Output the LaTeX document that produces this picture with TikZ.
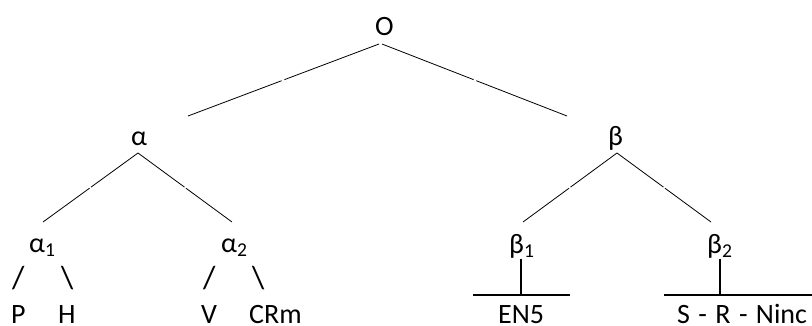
\documentclass[tikz,border=0pt]{standalone}
\usepackage{fontspec}
\setmainfont{Carlito}
\usetikzlibrary{calc}
\begin{document}
\begin{tikzpicture}[x=1pt,y=-1pt,
  lbl/.style={inner sep=0pt,anchor=base west,font=\fontsize{28}{32}\selectfont},
  slash/.style={lbl,font=\fontsize{32}{36}\selectfont},
  edge/.style={line width=0.8pt},
  bar/.style={line width=1.6pt}]
\useasboundingbox (0,0) rectangle (812,325);
% labels
\node[lbl] (O) at (375,35) {O};
\node[lbl] (a) at (131,145) {α};
\node[lbl] (b) at (608,145) {β};
\node[lbl] (a1) at (29,252) {α\textsubscript{1}};
\node[lbl] (a2) at (221,252) {α\textsubscript{2}};
\node[lbl] (b1) at (509,253) {β\textsubscript{1}};
\node[lbl] (b2) at (707,253) {β\textsubscript{2}};
\node[slash] (s1) at (12,288) {/};
\node[slash] (s2) at (61,288) {\textbackslash};
\node[slash] (s3) at (203,288) {/};
\node[slash] (s4) at (252,288) {\textbackslash};
\node[lbl] (P) at (11,323) {P};
\node[lbl] (H) at (58,323) {H};
\node[lbl] (V) at (201,323) {V};
\node[lbl] (CRm) at (249,323) {CRm};
\node[lbl] (EN5) at (498,323) {EN5};
\node[lbl] (SRN) at (677,323) {S\hspace{0.3em}-\hspace{0.3em}R\hspace{0.3em}-\hspace{0.3em}Ninc};
% connector end points
\coordinate (Ol) at (379,44);
\coordinate (Or) at (382,44);
\coordinate (at) at (138,153);
\coordinate (al) at (188,116);
\coordinate (br) at (567,116);
\coordinate (bt) at (617,153);
\coordinate (a1t) at (43,222);
\coordinate (a2t) at (232,222);
\coordinate (b1t) at (523,222);
\coordinate (b2t) at (711,222);
\coordinate (b1v) at (521,259);
\coordinate (b1h) at (521,295);
\coordinate (b1L) at (473,295);
\coordinate (b1R) at (570,295);
\coordinate (b2v) at (720,259);
\coordinate (b2h) at (720,295);
\coordinate (b2L) at (664,295);
\coordinate (b2R) at (812,295);
% split connectors (small gap half-way)
\foreach \u/\v in {Ol/al, Or/br, at/a1t, at/a2t, bt/b1t, bt/b2t}{
  \draw[edge] (\u) -- ($(\u)!0.495!(\v)$);
  \draw[edge] ($(\u)!0.51!(\v)$) -- (\v);
}
\draw[bar] (b1v) -- (b1h);
\draw[bar] (b1L) -- (b1R);
\draw[bar] (b2v) -- (b2h);
\draw[bar] (b2L) -- (b2R);
\end{tikzpicture}
\end{document}
